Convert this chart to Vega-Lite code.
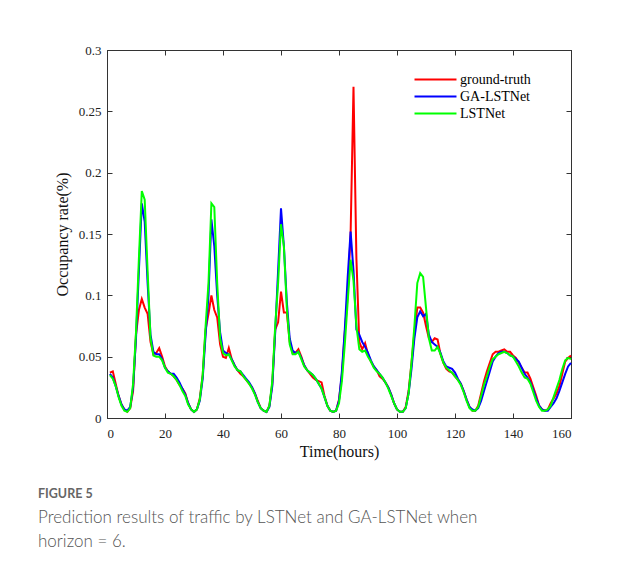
{
  "$schema": "https://vega.github.io/schema/vega-lite/v6.json",
  "width": 464,
  "height": 368,
  "autosize": {"type": "none"},
  "padding": {"left": 107, "top": 50, "right": 54, "bottom": 150},
  "background": "white",
  "data": {"values": [
    {"t":1,"ground-truth":0.037,"GA-LSTNet":0.036,"LSTNet":0.035},
    {"t":2,"ground-truth":0.038,"GA-LSTNet":0.033,"LSTNet":0.032},
    {"t":3,"ground-truth":0.028,"GA-LSTNet":0.026,"LSTNet":0.026},
    {"t":4,"ground-truth":0.018,"GA-LSTNet":0.018,"LSTNet":0.017},
    {"t":5,"ground-truth":0.011,"GA-LSTNet":0.011,"LSTNet":0.010},
    {"t":6,"ground-truth":0.007,"GA-LSTNet":0.007,"LSTNet":0.006},
    {"t":7,"ground-truth":0.005,"GA-LSTNet":0.006,"LSTNet":0.005},
    {"t":8,"ground-truth":0.008,"GA-LSTNet":0.009,"LSTNet":0.008},
    {"t":9,"ground-truth":0.022,"GA-LSTNet":0.025,"LSTNet":0.028},
    {"t":10,"ground-truth":0.068,"GA-LSTNet":0.065,"LSTNet":0.070},
    {"t":11,"ground-truth":0.088,"GA-LSTNet":0.120,"LSTNet":0.130},
    {"t":12,"ground-truth":0.097,"GA-LSTNet":0.175,"LSTNet":0.185},
    {"t":13,"ground-truth":0.090,"GA-LSTNet":0.160,"LSTNet":0.178},
    {"t":14,"ground-truth":0.085,"GA-LSTNet":0.110,"LSTNet":0.120},
    {"t":15,"ground-truth":0.062,"GA-LSTNet":0.068,"LSTNet":0.065},
    {"t":16,"ground-truth":0.052,"GA-LSTNet":0.054,"LSTNet":0.051},
    {"t":17,"ground-truth":0.053,"GA-LSTNet":0.052,"LSTNet":0.050},
    {"t":18,"ground-truth":0.057,"GA-LSTNet":0.052,"LSTNet":0.050},
    {"t":19,"ground-truth":0.050,"GA-LSTNet":0.048,"LSTNet":0.047},
    {"t":20,"ground-truth":0.042,"GA-LSTNet":0.041,"LSTNet":0.041},
    {"t":21,"ground-truth":0.038,"GA-LSTNet":0.038,"LSTNet":0.037},
    {"t":22,"ground-truth":0.036,"GA-LSTNet":0.036,"LSTNet":0.036},
    {"t":23,"ground-truth":0.034,"GA-LSTNet":0.036,"LSTNet":0.034},
    {"t":24,"ground-truth":0.031,"GA-LSTNet":0.033,"LSTNet":0.031},
    {"t":25,"ground-truth":0.027,"GA-LSTNet":0.029,"LSTNet":0.027},
    {"t":26,"ground-truth":0.024,"GA-LSTNet":0.024,"LSTNet":0.022},
    {"t":27,"ground-truth":0.020,"GA-LSTNet":0.019,"LSTNet":0.018},
    {"t":28,"ground-truth":0.012,"GA-LSTNet":0.012,"LSTNet":0.011},
    {"t":29,"ground-truth":0.007,"GA-LSTNet":0.007,"LSTNet":0.007},
    {"t":30,"ground-truth":0.005,"GA-LSTNet":0.005,"LSTNet":0.005},
    {"t":31,"ground-truth":0.007,"GA-LSTNet":0.007,"LSTNet":0.007},
    {"t":32,"ground-truth":0.016,"GA-LSTNet":0.014,"LSTNet":0.015},
    {"t":33,"ground-truth":0.035,"GA-LSTNet":0.032,"LSTNet":0.035},
    {"t":34,"ground-truth":0.072,"GA-LSTNet":0.068,"LSTNet":0.075},
    {"t":35,"ground-truth":0.085,"GA-LSTNet":0.100,"LSTNet":0.110},
    {"t":36,"ground-truth":0.100,"GA-LSTNet":0.162,"LSTNet":0.175},
    {"t":37,"ground-truth":0.088,"GA-LSTNet":0.140,"LSTNet":0.172},
    {"t":38,"ground-truth":0.082,"GA-LSTNet":0.100,"LSTNet":0.110},
    {"t":39,"ground-truth":0.060,"GA-LSTNet":0.070,"LSTNet":0.065},
    {"t":40,"ground-truth":0.050,"GA-LSTNet":0.055,"LSTNet":0.053},
    {"t":41,"ground-truth":0.049,"GA-LSTNet":0.053,"LSTNet":0.051},
    {"t":42,"ground-truth":0.057,"GA-LSTNet":0.052,"LSTNet":0.052},
    {"t":43,"ground-truth":0.048,"GA-LSTNet":0.048,"LSTNet":0.047},
    {"t":44,"ground-truth":0.043,"GA-LSTNet":0.043,"LSTNet":0.042},
    {"t":45,"ground-truth":0.039,"GA-LSTNet":0.039,"LSTNet":0.039},
    {"t":46,"ground-truth":0.036,"GA-LSTNet":0.038,"LSTNet":0.038},
    {"t":47,"ground-truth":0.034,"GA-LSTNet":0.035,"LSTNet":0.034},
    {"t":48,"ground-truth":0.031,"GA-LSTNet":0.032,"LSTNet":0.031},
    {"t":49,"ground-truth":0.028,"GA-LSTNet":0.029,"LSTNet":0.028},
    {"t":50,"ground-truth":0.025,"GA-LSTNet":0.025,"LSTNet":0.024},
    {"t":51,"ground-truth":0.020,"GA-LSTNet":0.020,"LSTNet":0.019},
    {"t":52,"ground-truth":0.014,"GA-LSTNet":0.013,"LSTNet":0.013},
    {"t":53,"ground-truth":0.008,"GA-LSTNet":0.008,"LSTNet":0.008},
    {"t":54,"ground-truth":0.006,"GA-LSTNet":0.006,"LSTNet":0.006},
    {"t":55,"ground-truth":0.005,"GA-LSTNet":0.005,"LSTNet":0.005},
    {"t":56,"ground-truth":0.010,"GA-LSTNet":0.009,"LSTNet":0.010},
    {"t":57,"ground-truth":0.028,"GA-LSTNet":0.026,"LSTNet":0.030},
    {"t":58,"ground-truth":0.072,"GA-LSTNet":0.070,"LSTNet":0.075},
    {"t":59,"ground-truth":0.078,"GA-LSTNet":0.120,"LSTNet":0.110},
    {"t":60,"ground-truth":0.103,"GA-LSTNet":0.171,"LSTNet":0.158},
    {"t":61,"ground-truth":0.086,"GA-LSTNet":0.140,"LSTNet":0.140},
    {"t":62,"ground-truth":0.086,"GA-LSTNet":0.095,"LSTNet":0.090},
    {"t":63,"ground-truth":0.062,"GA-LSTNet":0.065,"LSTNet":0.060},
    {"t":64,"ground-truth":0.053,"GA-LSTNet":0.055,"LSTNet":0.052},
    {"t":65,"ground-truth":0.053,"GA-LSTNet":0.053,"LSTNet":0.052},
    {"t":66,"ground-truth":0.056,"GA-LSTNet":0.054,"LSTNet":0.054},
    {"t":67,"ground-truth":0.050,"GA-LSTNet":0.049,"LSTNet":0.048},
    {"t":68,"ground-truth":0.043,"GA-LSTNet":0.043,"LSTNet":0.042},
    {"t":69,"ground-truth":0.039,"GA-LSTNet":0.039,"LSTNet":0.039},
    {"t":70,"ground-truth":0.036,"GA-LSTNet":0.037,"LSTNet":0.037},
    {"t":71,"ground-truth":0.033,"GA-LSTNet":0.035,"LSTNet":0.035},
    {"t":72,"ground-truth":0.031,"GA-LSTNet":0.032,"LSTNet":0.032},
    {"t":73,"ground-truth":0.030,"GA-LSTNet":0.028,"LSTNet":0.028},
    {"t":74,"ground-truth":0.029,"GA-LSTNet":0.024,"LSTNet":0.024},
    {"t":75,"ground-truth":0.018,"GA-LSTNet":0.017,"LSTNet":0.017},
    {"t":76,"ground-truth":0.010,"GA-LSTNet":0.010,"LSTNet":0.010},
    {"t":77,"ground-truth":0.006,"GA-LSTNet":0.006,"LSTNet":0.006},
    {"t":78,"ground-truth":0.005,"GA-LSTNet":0.005,"LSTNet":0.005},
    {"t":79,"ground-truth":0.006,"GA-LSTNet":0.006,"LSTNet":0.006},
    {"t":80,"ground-truth":0.015,"GA-LSTNet":0.014,"LSTNet":0.012},
    {"t":81,"ground-truth":0.035,"GA-LSTNet":0.038,"LSTNet":0.030},
    {"t":82,"ground-truth":0.070,"GA-LSTNet":0.072,"LSTNet":0.060},
    {"t":83,"ground-truth":0.100,"GA-LSTNet":0.115,"LSTNet":0.095},
    {"t":84,"ground-truth":0.150,"GA-LSTNet":0.152,"LSTNet":0.129},
    {"t":85,"ground-truth":0.270,"GA-LSTNet":0.120,"LSTNet":0.112},
    {"t":86,"ground-truth":0.130,"GA-LSTNet":0.072,"LSTNet":0.075},
    {"t":87,"ground-truth":0.062,"GA-LSTNet":0.068,"LSTNet":0.056},
    {"t":88,"ground-truth":0.056,"GA-LSTNet":0.062,"LSTNet":0.054},
    {"t":89,"ground-truth":0.061,"GA-LSTNet":0.058,"LSTNet":0.055},
    {"t":90,"ground-truth":0.052,"GA-LSTNet":0.053,"LSTNet":0.050},
    {"t":91,"ground-truth":0.046,"GA-LSTNet":0.047,"LSTNet":0.046},
    {"t":92,"ground-truth":0.042,"GA-LSTNet":0.042,"LSTNet":0.041},
    {"t":93,"ground-truth":0.039,"GA-LSTNet":0.039,"LSTNet":0.038},
    {"t":94,"ground-truth":0.034,"GA-LSTNet":0.036,"LSTNet":0.036},
    {"t":95,"ground-truth":0.032,"GA-LSTNet":0.033,"LSTNet":0.033},
    {"t":96,"ground-truth":0.029,"GA-LSTNet":0.029,"LSTNet":0.029},
    {"t":97,"ground-truth":0.025,"GA-LSTNet":0.025,"LSTNet":0.024},
    {"t":98,"ground-truth":0.019,"GA-LSTNet":0.019,"LSTNet":0.018},
    {"t":99,"ground-truth":0.012,"GA-LSTNet":0.012,"LSTNet":0.012},
    {"t":100,"ground-truth":0.007,"GA-LSTNet":0.007,"LSTNet":0.007},
    {"t":101,"ground-truth":0.005,"GA-LSTNet":0.005,"LSTNet":0.005},
    {"t":102,"ground-truth":0.005,"GA-LSTNet":0.005,"LSTNet":0.005},
    {"t":103,"ground-truth":0.009,"GA-LSTNet":0.008,"LSTNet":0.008},
    {"t":104,"ground-truth":0.022,"GA-LSTNet":0.020,"LSTNet":0.020},
    {"t":105,"ground-truth":0.045,"GA-LSTNet":0.040,"LSTNet":0.045},
    {"t":106,"ground-truth":0.070,"GA-LSTNet":0.065,"LSTNet":0.075},
    {"t":107,"ground-truth":0.090,"GA-LSTNet":0.082,"LSTNet":0.110},
    {"t":108,"ground-truth":0.090,"GA-LSTNet":0.087,"LSTNet":0.118},
    {"t":109,"ground-truth":0.086,"GA-LSTNet":0.083,"LSTNet":0.115},
    {"t":110,"ground-truth":0.075,"GA-LSTNet":0.085,"LSTNet":0.090},
    {"t":111,"ground-truth":0.065,"GA-LSTNet":0.068,"LSTNet":0.065},
    {"t":112,"ground-truth":0.062,"GA-LSTNet":0.062,"LSTNet":0.055},
    {"t":113,"ground-truth":0.065,"GA-LSTNet":0.060,"LSTNet":0.055},
    {"t":114,"ground-truth":0.064,"GA-LSTNet":0.058,"LSTNet":0.058},
    {"t":115,"ground-truth":0.052,"GA-LSTNet":0.053,"LSTNet":0.052},
    {"t":116,"ground-truth":0.045,"GA-LSTNet":0.046,"LSTNet":0.045},
    {"t":117,"ground-truth":0.040,"GA-LSTNet":0.042,"LSTNet":0.041},
    {"t":118,"ground-truth":0.038,"GA-LSTNet":0.041,"LSTNet":0.039},
    {"t":119,"ground-truth":0.037,"GA-LSTNet":0.040,"LSTNet":0.037},
    {"t":120,"ground-truth":0.034,"GA-LSTNet":0.037,"LSTNet":0.034},
    {"t":121,"ground-truth":0.031,"GA-LSTNet":0.032,"LSTNet":0.031},
    {"t":122,"ground-truth":0.028,"GA-LSTNet":0.028,"LSTNet":0.027},
    {"t":123,"ground-truth":0.022,"GA-LSTNet":0.022,"LSTNet":0.021},
    {"t":124,"ground-truth":0.015,"GA-LSTNet":0.015,"LSTNet":0.014},
    {"t":125,"ground-truth":0.009,"GA-LSTNet":0.009,"LSTNet":0.008},
    {"t":126,"ground-truth":0.006,"GA-LSTNet":0.007,"LSTNet":0.006},
    {"t":127,"ground-truth":0.006,"GA-LSTNet":0.006,"LSTNet":0.006},
    {"t":128,"ground-truth":0.010,"GA-LSTNet":0.008,"LSTNet":0.009},
    {"t":129,"ground-truth":0.020,"GA-LSTNet":0.014,"LSTNet":0.018},
    {"t":130,"ground-truth":0.030,"GA-LSTNet":0.022,"LSTNet":0.027},
    {"t":131,"ground-truth":0.038,"GA-LSTNet":0.030,"LSTNet":0.034},
    {"t":132,"ground-truth":0.045,"GA-LSTNet":0.038,"LSTNet":0.042},
    {"t":133,"ground-truth":0.052,"GA-LSTNet":0.046,"LSTNet":0.048},
    {"t":134,"ground-truth":0.054,"GA-LSTNet":0.050,"LSTNet":0.050},
    {"t":135,"ground-truth":0.054,"GA-LSTNet":0.053,"LSTNet":0.052},
    {"t":136,"ground-truth":0.055,"GA-LSTNet":0.054,"LSTNet":0.053},
    {"t":137,"ground-truth":0.056,"GA-LSTNet":0.054,"LSTNet":0.054},
    {"t":138,"ground-truth":0.054,"GA-LSTNet":0.053,"LSTNet":0.053},
    {"t":139,"ground-truth":0.054,"GA-LSTNet":0.051,"LSTNet":0.051},
    {"t":140,"ground-truth":0.051,"GA-LSTNet":0.050,"LSTNet":0.050},
    {"t":141,"ground-truth":0.049,"GA-LSTNet":0.048,"LSTNet":0.046},
    {"t":142,"ground-truth":0.045,"GA-LSTNet":0.046,"LSTNet":0.042},
    {"t":143,"ground-truth":0.041,"GA-LSTNet":0.041,"LSTNet":0.037},
    {"t":144,"ground-truth":0.037,"GA-LSTNet":0.036,"LSTNet":0.033},
    {"t":145,"ground-truth":0.037,"GA-LSTNet":0.033,"LSTNet":0.032},
    {"t":146,"ground-truth":0.032,"GA-LSTNet":0.029,"LSTNet":0.028},
    {"t":147,"ground-truth":0.025,"GA-LSTNet":0.023,"LSTNet":0.021},
    {"t":148,"ground-truth":0.018,"GA-LSTNet":0.016,"LSTNet":0.014},
    {"t":149,"ground-truth":0.010,"GA-LSTNet":0.010,"LSTNet":0.009},
    {"t":150,"ground-truth":0.007,"GA-LSTNet":0.007,"LSTNet":0.006},
    {"t":151,"ground-truth":0.006,"GA-LSTNet":0.006,"LSTNet":0.006},
    {"t":152,"ground-truth":0.007,"GA-LSTNet":0.006,"LSTNet":0.007},
    {"t":153,"ground-truth":0.012,"GA-LSTNet":0.009,"LSTNet":0.010},
    {"t":154,"ground-truth":0.016,"GA-LSTNet":0.012,"LSTNet":0.017},
    {"t":155,"ground-truth":0.020,"GA-LSTNet":0.016,"LSTNet":0.024},
    {"t":156,"ground-truth":0.026,"GA-LSTNet":0.022,"LSTNet":0.031},
    {"t":157,"ground-truth":0.036,"GA-LSTNet":0.029,"LSTNet":0.040},
    {"t":158,"ground-truth":0.046,"GA-LSTNet":0.036,"LSTNet":0.047},
    {"t":159,"ground-truth":0.049,"GA-LSTNet":0.042,"LSTNet":0.049},
    {"t":160,"ground-truth":0.051,"GA-LSTNet":0.045,"LSTNet":0.048}
  ]},
  "transform": [{"fold": ["ground-truth", "GA-LSTNet", "LSTNet"], "as": ["series", "value"]}],
  "title": {
    "text": "FIGURE 5",
    "subtitle": ["Prediction results of traffic by LSTNet and GA-LSTNet when", "horizon = 6."],
    "orient": "bottom",
    "anchor": "start",
    "frame": "group",
    "dx": -69,
    "offset": 29,
    "font": "Lato",
    "fontSize": 12.5,
    "fontWeight": "bold",
    "color": "#666666",
    "subtitleFont": "Lato",
    "subtitleFontSize": 17,
    "subtitleFontWeight": 300,
    "subtitleColor": "#555555",
    "subtitlePadding": 9,
    "subtitleLineHeight": 24
  },
  "layer": [
    {
      "mark": {"type": "line", "strokeWidth": 2},
      "encoding": {
        "x": {"field": "t", "type": "quantitative",
          "scale": {"domain": [0, 160], "nice": false},
          "axis": {"orient": "bottom", "values": [0,20,40,60,80,100,120,140,160], "title": "Time(hours)", "tickSize": -5, "labelPadding": 14, "titlePadding": 3}},
        "y": {"field": "value", "type": "quantitative",
          "scale": {"domain": [0, 0.3], "nice": false},
          "axis": {"orient": "left", "values": [0,0.05,0.1,0.15,0.2,0.25,0.3], "format": "~g", "title": "Occupancy rate(%)", "tickSize": -5, "labelPadding": 11, "titlePadding": 8}},
        "color": {"field": "series", "type": "nominal",
          "scale": {"domain": ["ground-truth", "GA-LSTNet", "LSTNet"], "range": ["#ff0000", "#0000ff", "#00ff00"]},
          "legend": {"orient": "none", "legendX": 319, "legendY": 20, "title": null, "padding": 0,
            "symbolType": "M-2.5,0H2.5", "symbolSize": 282, "symbolStrokeWidth": 2, "labelOffset": 15,
            "labelFont": "Liberation Serif", "labelFontSize": 14, "labelColor": "#000000", "rowPadding": 0}}
      }
    },
    {
      "mark": {"type": "line", "opacity": 0},
      "encoding": {
        "x": {"field": "t", "type": "quantitative",
          "axis": {"orient": "top", "values": [0,20,40,60,80,100,120,140,160], "labels": false, "title": null, "tickSize": -5}},
        "y": {"field": "value", "type": "quantitative",
          "axis": {"orient": "right", "values": [0,0.05,0.1,0.15,0.2,0.25,0.3], "labels": false, "title": null, "tickSize": -5}},
        "detail": {"field": "series", "type": "nominal"}
      }
    }
  ],
  "config": {
    "view": {"stroke": "#333333", "strokeWidth": 1},
    "axis": {
      "grid": false,
      "domainColor": "#333333",
      "tickColor": "#333333",
      "labelFont": "Liberation Serif",
      "labelFontSize": 13,
      "labelColor": "#222222",
      "titleFont": "Liberation Serif",
      "titleFontSize": 16,
      "titleFontWeight": "normal",
      "titleColor": "#111111"
    }
  }
}
